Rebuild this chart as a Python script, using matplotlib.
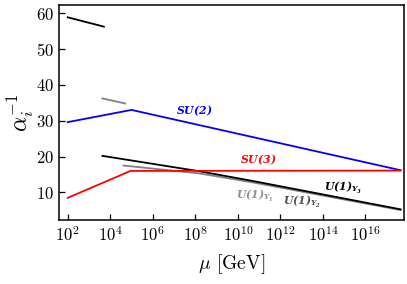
import numpy as np
import matplotlib
matplotlib.use("Agg")
import matplotlib.pyplot as plt
from matplotlib.ticker import FixedLocator, NullLocator, LogFormatterMathtext

plt.rcParams['mathtext.fontset'] = 'cm'
plt.rcParams['font.family'] = 'cmr10'
plt.rcParams['axes.formatter.use_mathtext'] = True
plt.rcParams['mathtext.bf'] = 'DejaVu Serif:italic:bold'
plt.rcParams['mathtext.rm'] = 'DejaVu Serif:italic:bold'
plt.rcParams['mathtext.it'] = 'DejaVu Serif:italic:bold'

# log10(mu) and alpha^-1 values
su2_logmu = [2.0, 5.0, 17.65]
su2_val = [29.6, 33.0, 16.2]
su3_logmu = [2.0, 4.95, 17.65]
su3_val = [8.5, 16.0, 16.1]
u1_top_logmu = [2.0, 3.7]
u1_top_val = [58.8, 56.2]
gray_top_logmu = [3.63, 4.7]
gray_top_val = [36.2, 34.8]
y3_logmu = [3.63, 8.2, 10.7, 17.65]
y3_val = [20.2, 15.9, 13.2, 5.3]
y1_logmu = [4.62, 8.2, 10.7, 17.65]
y1_val = [17.5, 15.3, 12.8, 5.1]

xticks_exp = [2, 4, 6, 8, 10, 12, 14, 16]
yticks = [10, 20, 30, 40, 50, 60]

fig = plt.figure(figsize=(4.07, 2.84), dpi=100)
ax = fig.add_axes([0.145, 0.225, 0.848, 0.757])

def p(lm):
    return 10.0 ** np.array(lm)

lw = 1.3
ax.plot(p(y1_logmu), y1_val, color='#808080', lw=lw)
ax.plot(p(y3_logmu), y3_val, color='black', lw=lw)
ax.plot(p(su2_logmu), su2_val, color='#0000ff', lw=lw)
ax.plot(p(su3_logmu), su3_val, color='#ff0000', lw=lw)
ax.plot(p(u1_top_logmu), u1_top_val, color='black', lw=lw)
ax.plot(p(gray_top_logmu), gray_top_val, color='#808080', lw=lw)

ax.set_xscale('log')
ax.set_xlim(10 ** 1.59, 10 ** 17.82)
ax.set_ylim(2.3, 62.2)
ax.xaxis.set_major_locator(FixedLocator([10.0 ** e for e in xticks_exp]))
ax.xaxis.set_major_formatter(LogFormatterMathtext())
ax.xaxis.set_minor_locator(NullLocator())
ax.set_yticks(yticks)
ax.tick_params(direction='in', length=4, width=0.9, labelsize=12, top=False, right=False)
for s in ax.spines.values():
    s.set_linewidth(1.1)

ax.set_xlabel(r'$\mu$ [GeV]', fontsize=14, math_fontfamily='cm', labelpad=6)
ax.set_ylabel(r'$\alpha_i^{-1}$', fontsize=17, math_fontfamily='cm', labelpad=0)

kw = dict(fontsize=7.8, math_fontfamily='custom', ha='center', va='center')
ax.text(10 ** 7.94, 32.7, r'$\mathbf{SU(2)}$', color='#0000ff', **kw)
ax.text(10 ** 10.96, 19.2, r'$\mathbf{SU(3)}$', color='#ff0000', **kw)
ax.text(10 ** 10.82, 8.9, r'$\mathbf{U(1)_{Y_1}}$', color='#909090', **kw)
ax.text(10 ** 13.01, 7.35, r'$\mathbf{U(1)_{Y_2}}$', color='#505050', **kw)
ax.text(10 ** 14.96, 11.2, r'$\mathbf{U(1)_{Y_3}}$', color='black', **kw)

fig.savefig('out.png', dpi=100)
